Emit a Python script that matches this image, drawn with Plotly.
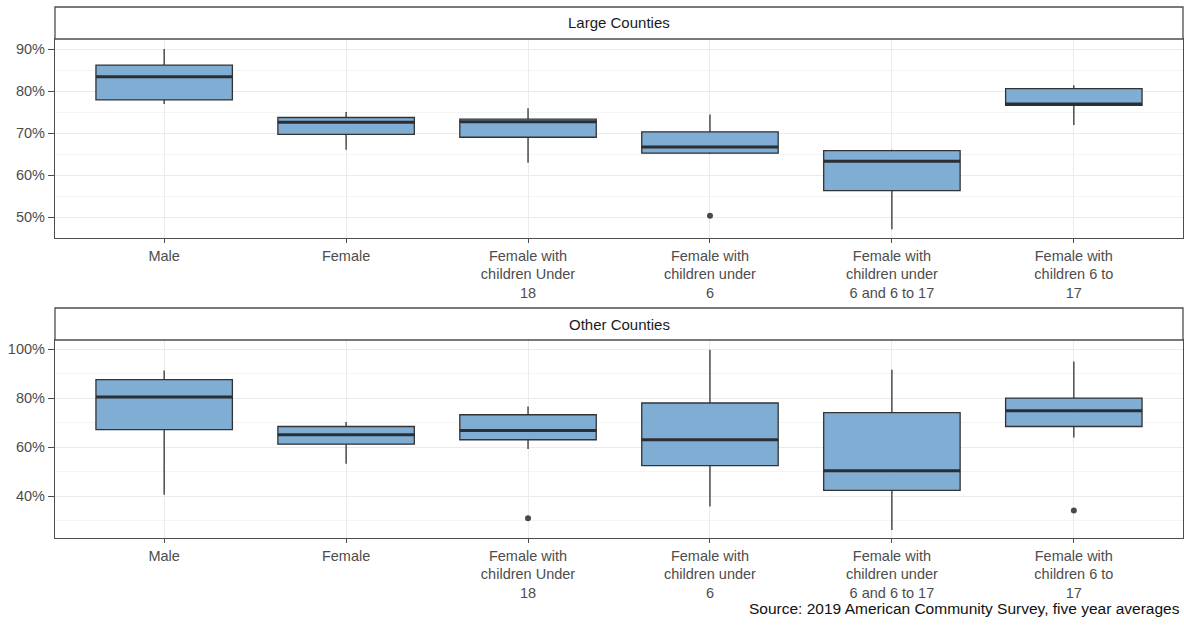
import plotly.graph_objects as go

categories = ["Male", "Female", "Female with<br>children Under<br>18", "Female with<br>children under<br>6",
              "Female with<br>children under<br>6 and 6 to 17", "Female with<br>children 6 to<br>17"]

# Large Counties (percent)
large_low = [76.9, 66.0, 62.9, 65.0, 47.1, 71.9]
large_q1 = [77.9, 69.7, 69.0, 65.2, 56.3, 76.6]
large_med = [83.4, 72.6, 72.7, 66.7, 63.3, 76.9]
large_q3 = [86.2, 73.7, 73.3, 70.3, 65.8, 80.6]
large_high = [90.0, 75.0, 75.9, 74.4, 66.0, 81.4]
large_out_x = [3]
large_out_y = [50.3]

# Other Counties (percent)
other_low = [40.5, 53.2, 59.2, 35.8, 26.2, 63.9]
other_q1 = [67.1, 61.2, 63.0, 52.4, 42.3, 68.4]
other_med = [80.4, 65.0, 66.8, 63.0, 50.3, 74.8]
other_q3 = [87.5, 68.4, 73.2, 78.0, 74.1, 80.0]
other_high = [91.3, 70.2, 76.6, 99.7, 91.6, 94.9]
other_out_x = [2, 5]
other_out_y = [31.0, 34.1]

large_ticks = [50, 60, 70, 80, 90]
other_ticks = [40, 60, 80, 100]

W, H = 1184, 629
FONT = "Liberation Sans, Arial, sans-serif"
FILL = "rgba(120,169,210,0.95)"
LINE = "#333333"
BOXW = 0.75
xpos = list(range(len(categories)))


def px_x(p):
    return p / W


def px_y(p):
    return 1 - p / H


fig = go.Figure()


def add_panel(xa, ya, low, q1, med, q3, high, ox, oy):
    fig.add_trace(go.Box(
        x=xpos, q1=q1, median=med, q3=q3, lowerfence=low, upperfence=high,
        width=BOXW, whiskerwidth=0, fillcolor=FILL, line=dict(color=LINE, width=1.3),
        boxpoints=False, xaxis=xa, yaxis=ya, showlegend=False, hoverinfo="skip"))
    mx, my = [], []
    for i, m in zip(xpos, med):
        mx += [i - BOXW / 2, i + BOXW / 2, None]
        my += [m, m, None]
    fig.add_trace(go.Scatter(x=mx, y=my, mode="lines", line=dict(color="#2b2f33", width=3),
                             xaxis=xa, yaxis=ya, showlegend=False, hoverinfo="skip"))
    fig.add_trace(go.Scatter(x=ox, y=oy, mode="markers", marker=dict(color="#4a4a4a", size=6),
                             xaxis=xa, yaxis=ya, showlegend=False, hoverinfo="skip"))


add_panel("x", "y", large_low, large_q1, large_med, large_q3, large_high, large_out_x, large_out_y)
add_panel("x2", "y2", other_low, other_q1, other_med, other_q3, other_high, other_out_x, other_out_y)

xdom = [px_x(55), px_x(1183)]
xcommon = dict(
    range=[-0.6, 5.6], tickmode="array", tickvals=xpos, ticktext=categories,
    showgrid=True, gridcolor="#EBEBEB", gridwidth=1, zeroline=False,
    showline=True, mirror=True, linecolor="#4d4d4d", linewidth=1.3,
    ticks="outside", ticklen=4, tickcolor="#4d4d4d",
    tickfont=dict(family=FONT, size=14.5, color="#4D4D4D"),
    domain=xdom, automargin=False, fixedrange=True)
ycommon = dict(
    showgrid=True, gridcolor="#EBEBEB", gridwidth=1, zeroline=False,
    showline=True, mirror=True, linecolor="#4d4d4d", linewidth=1.3,
    ticks="outside", ticklen=6, tickcolor="#4d4d4d",
    tickfont=dict(family=FONT, size=14.5, color="#4D4D4D"),
    automargin=False, fixedrange=True)

fig.update_layout(
    width=W, height=H,
    margin=dict(l=0, r=0, t=0, b=0),
    paper_bgcolor="white", plot_bgcolor="white",
    boxmode="overlay",
    xaxis=dict(**xcommon, anchor="y"),
    yaxis=dict(**ycommon, anchor="x", domain=[px_y(238), px_y(39)], range=[45, 92.4],
               tickmode="array", tickvals=large_ticks, ticktext=[f"{v}%" for v in large_ticks],
               minor=dict(showgrid=True, gridcolor="#F4F4F4", dtick=5, tick0=0, ticks="")),
    xaxis2=dict(**xcommon, anchor="y2"),
    yaxis2=dict(**ycommon, anchor="x2", domain=[px_y(538), px_y(340)], range=[22.9, 103.7],
                tickmode="array", tickvals=other_ticks, ticktext=[f"{v}%" for v in other_ticks],
                minor=dict(showgrid=True, gridcolor="#F4F4F4", dtick=10, tick0=0, ticks="")),
)

for top, bot, label in [(7, 39, "Large Counties"), (308, 340, "Other Counties")]:
    fig.add_shape(type="rect", xref="paper", yref="paper",
                  x0=xdom[0], x1=xdom[1], y0=px_y(bot), y1=px_y(top),
                  fillcolor="white", line=dict(color="#4d4d4d", width=1.3), layer="above")
    fig.add_annotation(x=(xdom[0] + xdom[1]) / 2, y=px_y((top + bot) / 2), xref="paper", yref="paper",
                       text=label, showarrow=False, xanchor="center", yanchor="middle",
                       font=dict(family=FONT, size=15, color="#1A1A1A"))

fig.add_annotation(x=px_x(1182), y=px_y(608), xref="paper", yref="paper",
                   text="Source: 2019 American Community Survey, five year averages",
                   showarrow=False, xanchor="right", yanchor="middle",
                   font=dict(family=FONT, size=15.5, color="#111111"))

fig.write_html("out.html", config={"displayModeBar": False},
               post_script="document.body.style.margin='0';document.body.style.overflow='hidden';")
